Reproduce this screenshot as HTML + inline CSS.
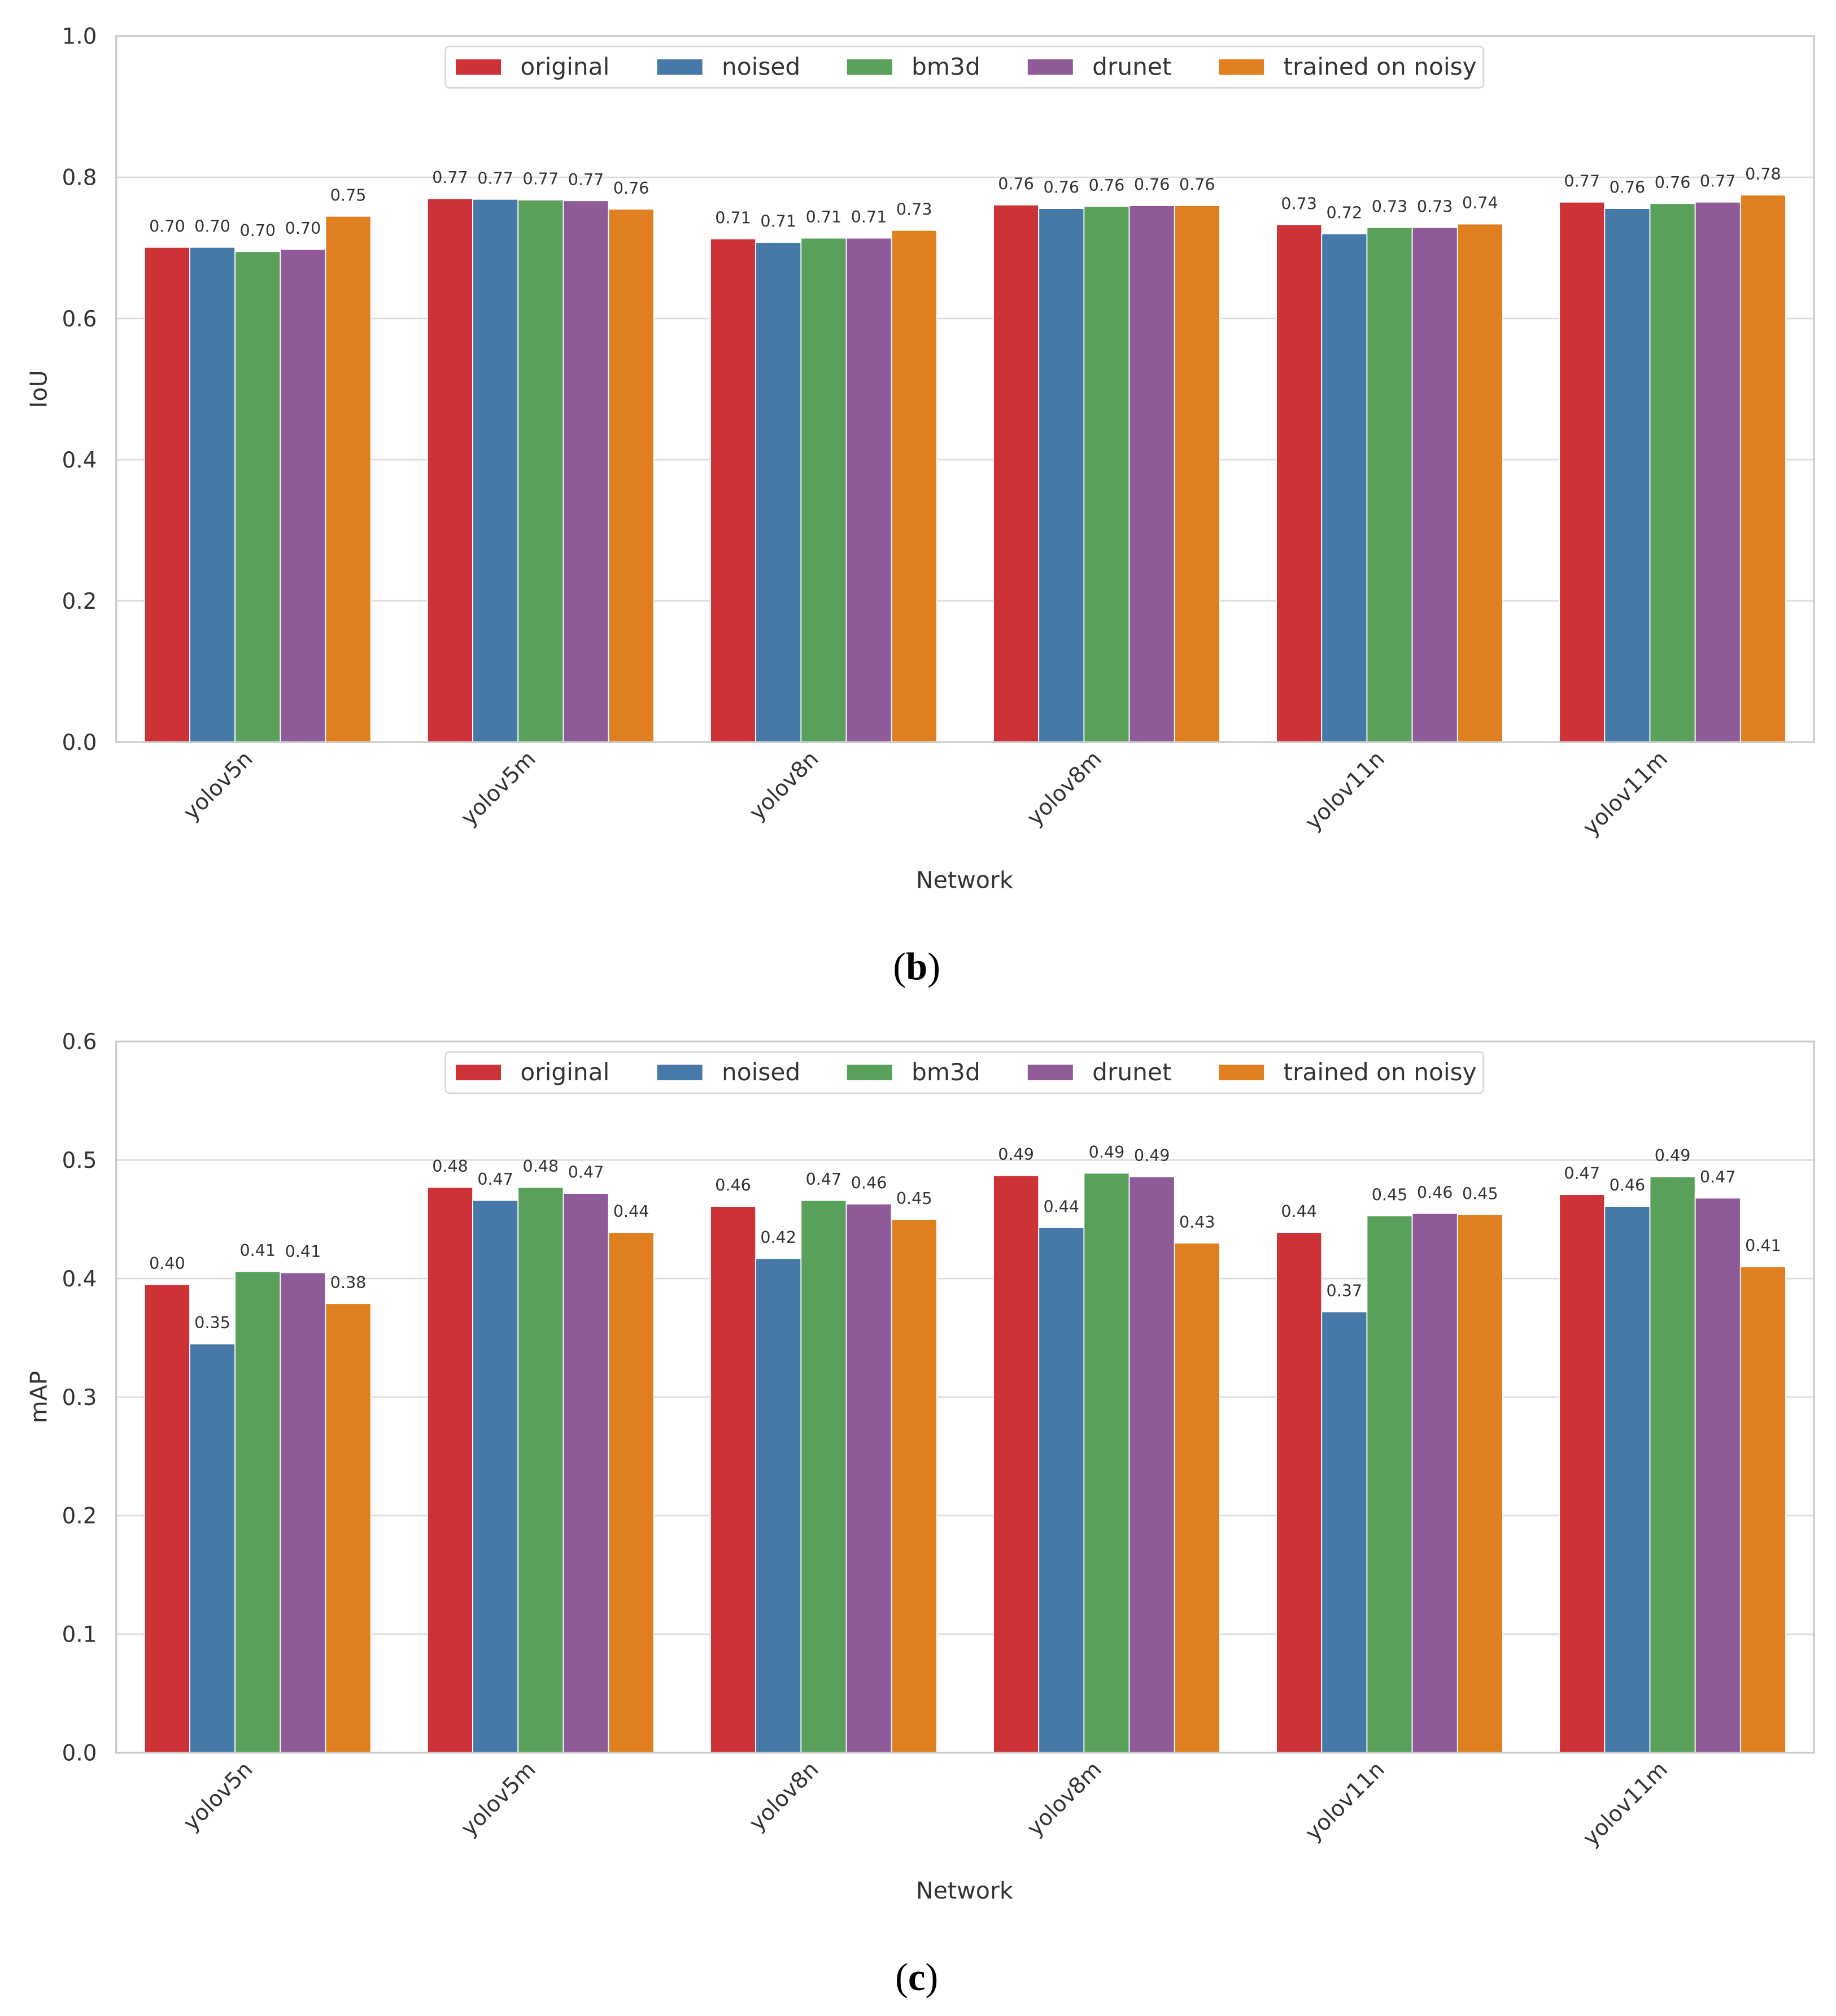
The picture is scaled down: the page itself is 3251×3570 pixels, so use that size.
<!DOCTYPE html>
<html><head><meta charset="utf-8">
<style>
html,body{margin:0;padding:0;background:#fff;}
svg{display:block;}
text{font-family:"DejaVu Sans","Liberation Sans",sans-serif;fill:#333;}
.cap{font-family:"Liberation Serif",serif;fill:#000;}
</style></head>
<body>
<svg id="root" width="3251" height="3570" viewBox="0 0 3251 3570" xmlns="http://www.w3.org/2000/svg">
<g id="main" transform="scale(2.2862,2.2855)"></g>
</svg>
<script>
const categories = ["yolov5n","yolov5m","yolov8n","yolov8m","yolov11n","yolov11m"];
const seriesNames = ["original","noised","bm3d","drunet","trained on noisy"];
const colors = ["#cd3236","#4679a8","#59a05a","#8f5a98","#e07f20"];
const iouOriginal = [0.701,0.770,0.713,0.761,0.733,0.765];
const iouNoised   = [0.701,0.769,0.708,0.756,0.720,0.756];
const iouBm3d     = [0.695,0.768,0.714,0.759,0.729,0.763];
const iouDrunet   = [0.698,0.767,0.714,0.760,0.729,0.765];
const iouTrained  = [0.745,0.755,0.725,0.760,0.734,0.775];
const iouLabels = [["0.70","0.77","0.71","0.76","0.73","0.77"],["0.70","0.77","0.71","0.76","0.72","0.76"],["0.70","0.77","0.71","0.76","0.73","0.76"],["0.70","0.77","0.71","0.76","0.73","0.77"],["0.75","0.76","0.73","0.76","0.74","0.78"]];
const mapOriginal = [0.395,0.477,0.461,0.487,0.439,0.471];
const mapNoised   = [0.345,0.466,0.417,0.443,0.372,0.461];
const mapBm3d     = [0.406,0.477,0.466,0.489,0.453,0.486];
const mapDrunet   = [0.405,0.472,0.463,0.486,0.455,0.468];
const mapTrained  = [0.379,0.439,0.450,0.430,0.454,0.410];
const mapLabels = [["0.40","0.48","0.46","0.49","0.44","0.47"],["0.35","0.47","0.42","0.44","0.37","0.46"],["0.41","0.48","0.47","0.49","0.45","0.49"],["0.41","0.47","0.46","0.49","0.46","0.47"],["0.38","0.44","0.45","0.43","0.45","0.41"]];
const iouTicks = ["0.0","0.2","0.4","0.6","0.8","1.0"];
const mapTicks = ["0.0","0.1","0.2","0.3","0.4","0.5","0.6"];

const NS="http://www.w3.org/2000/svg";
const main=document.getElementById('main');
function mk(tag,attrs,parent,txt){const e=document.createElementNS(NS,tag);for(const k in attrs)e.setAttribute(k,attrs[k]);if(txt!==undefined)e.textContent=txt;(parent||main).appendChild(e);return e;}

function chart(top,bottom,ymax,ticks,series,labels,ylabel,caption,prefix){
  const L=90,R=1405;
  const g=mk('g',{});
  
  
  const y=v=>bottom-(v/ymax)*(bottom-top);
  const gw=(R-L)/categories.length;
  const x=i=>L+gw*(i+0.5);
  ticks.forEach(t=>{
    const v=parseFloat(t);
    const gl=mk('line',{x1:L,x2:R,y1:y(v),y2:y(v),stroke:'#dcdcdc','stroke-width':1.2},g);
    
    
    const tl=mk('text',{x:75,y:y(v)+6,'text-anchor':'end','font-size':17},g,t);
    
    
  });
  const bw=gw*0.8/5;
  series.forEach((s,si)=>{
    s.forEach((v,ci)=>{
      const bx=x(ci)-gw*0.4+si*bw;
      const r=mk('rect',{x:bx,y:y(v),width:bw,height:bottom-y(v),fill:colors[si],stroke:'#fff','stroke-width':0.8},g);
      
      
      const t=mk('text',{x:bx+bw/2,y:y(v)-12,'text-anchor':'middle','font-size':12.5},g,labels[si][ci]);
      
      
    });
  });
  const fr=mk('rect',{x:L,y:top,width:R-L,height:bottom-top,fill:'none',stroke:'#cccccc','stroke-width':1.5},g);
  
  
  categories.forEach((c,i)=>{
    const ax=x(i)-3, ay=bottom+14;
    const t=mk('text',{x:ax,y:ay,'text-anchor':'end','font-size':17,transform:`rotate(-45 ${ax} ${ay})`},g,c);
    
    
  });
  const xt=mk('text',{x:747,y:bottom+113,'text-anchor':'middle','font-size':18},g,'Network');
  
  
  const cy=(top+bottom)/2;
  const yt=mk('text',{x:36,y:cy,'text-anchor':'middle','font-size':18,transform:`rotate(-90 36 ${cy})`},g,ylabel);
  
  
  const lg=mk('g',{},g);
  
  
  mk('rect',{x:345,y:top+8,width:804,height:32,rx:3,fill:'#fff',stroke:'#d8d8d8','stroke-width':1.2},lg);
  const px=[353,509,656,796,944], tx=[403,559,706,846,994];
  seriesNames.forEach((n,i)=>{
    const e=mk('g',{},lg);
    
    
    mk('rect',{x:px[i],y:top+18,width:35,height:12,fill:colors[i]},e);
    mk('text',{x:tx[i],y:top+30,'font-size':18.5},e,n);
  });
  const cp=mk('text',{x:710,y:bottom+184,'text-anchor':'middle','font-size':30,class:'cap'},main);
  
  
  mk('tspan',{},cp,'(');
  mk('tspan',{'font-weight':'bold'},cp,caption);
  mk('tspan',{},cp,')');
}
chart(28,575,1.0,iouTicks,[iouOriginal,iouNoised,iouBm3d,iouDrunet,iouTrained],iouLabels,'IoU','b','iou');
chart(807,1358,0.6,mapTicks,[mapOriginal,mapNoised,mapBm3d,mapDrunet,mapTrained],mapLabels,'mAP','c','map');
</script>
</body></html>
